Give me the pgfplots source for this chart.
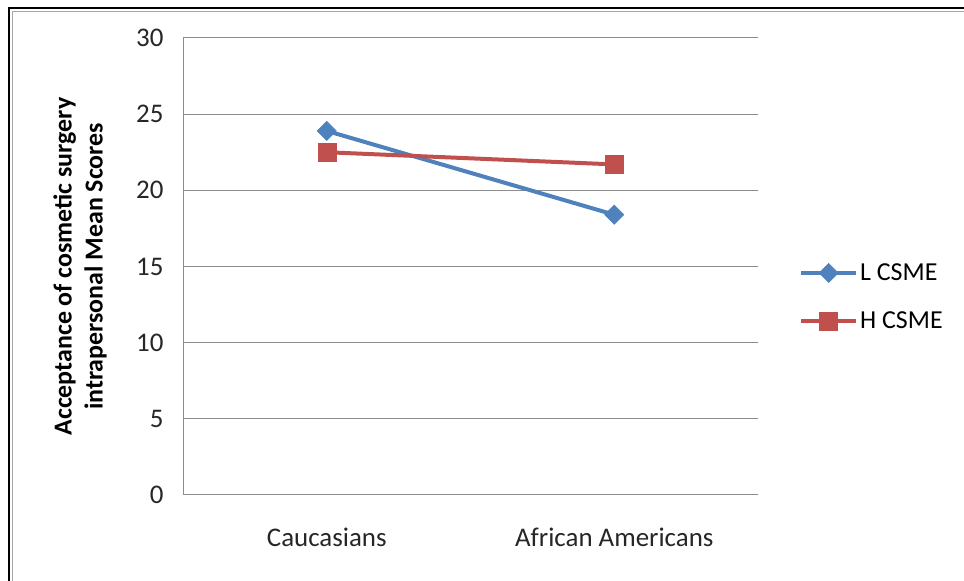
\documentclass[border=0pt]{standalone}
\usepackage{pgfplots}
\pgfplotsset{compat=1.18}
\usepackage{fontspec}
\setmainfont{Carlito}
\definecolor{lblue}{HTML}{4F81BD}
\definecolor{hred}{HTML}{C0504D}
\definecolor{gridgray}{HTML}{8C8C8C}
\begin{document}
\begin{tikzpicture}[x=1bp,y=1bp]
\useasboundingbox (0,0) rectangle (964,581);
% outer frame (cut at right and bottom)
\draw[black, line width=2.5bp] (9,0) -- (9,573) -- (964,573);
\draw[gray!70, line width=1.5bp] (12.5,0) -- (12.5,569.5) -- (964,569.5);
\begin{axis}[
  at={(183bp,86bp)}, anchor=south west,
  scale only axis, width=575bp, height=457bp,
  xmin=-0.5, xmax=1.5, ymin=0, ymax=30,
  xtick={0,1}, xticklabels={Caucasians, African Americans},
  ytick={0,5,...,30},
  major tick length=0pt,
  ymajorgrids, grid style={gridgray, line width=1bp},
  axis x line*=bottom, axis y line*=left,
  axis line style={gridgray, line width=1bp, -},
  x axis line style={-}, y axis line style={-},
  tick label style={font=\fontsize{27}{30}\selectfont, text=black!85},
  yticklabel style={xshift=-16bp},
  xticklabel style={yshift=-29bp},
  /pgf/number format/assume math mode=true,
  ylabel={\textbf{Acceptance of cosmetic surgery}\\\textbf{intrapersonal Mean Scores}},
  ylabel style={align=center, font=\fontsize{26}{31}\selectfont,
    at={(axis description cs:-0.179,0.5)}, anchor=center},
  legend style={at={(1.0,0.433)}, anchor=west, draw=none, fill=none,
    font=\fontsize{26}{30}\selectfont, row sep=26bp, xshift=38bp},
  legend cell align=left,
  legend image code/.code={
    \draw[#1] (0bp,0bp) -- (55bp,0bp);
    \draw[#1, mark repeat=1, mark phase=1] plot coordinates {(27.5bp,0bp)};
  },
]
\addplot[lblue, line width=4bp, mark=square*, mark size=6.8bp, mark options={solid, rotate=45, line width=0.5bp}] coordinates {(0,23.9) (1,18.4)};
\addlegendentry{L CSME}
\addplot[hred, line width=4bp, mark=square*, mark size=9bp, mark options={solid, line width=0.5bp}] coordinates {(0,22.5) (1,21.7)};
\addlegendentry{H CSME}
\end{axis}
\end{tikzpicture}
\end{document}
